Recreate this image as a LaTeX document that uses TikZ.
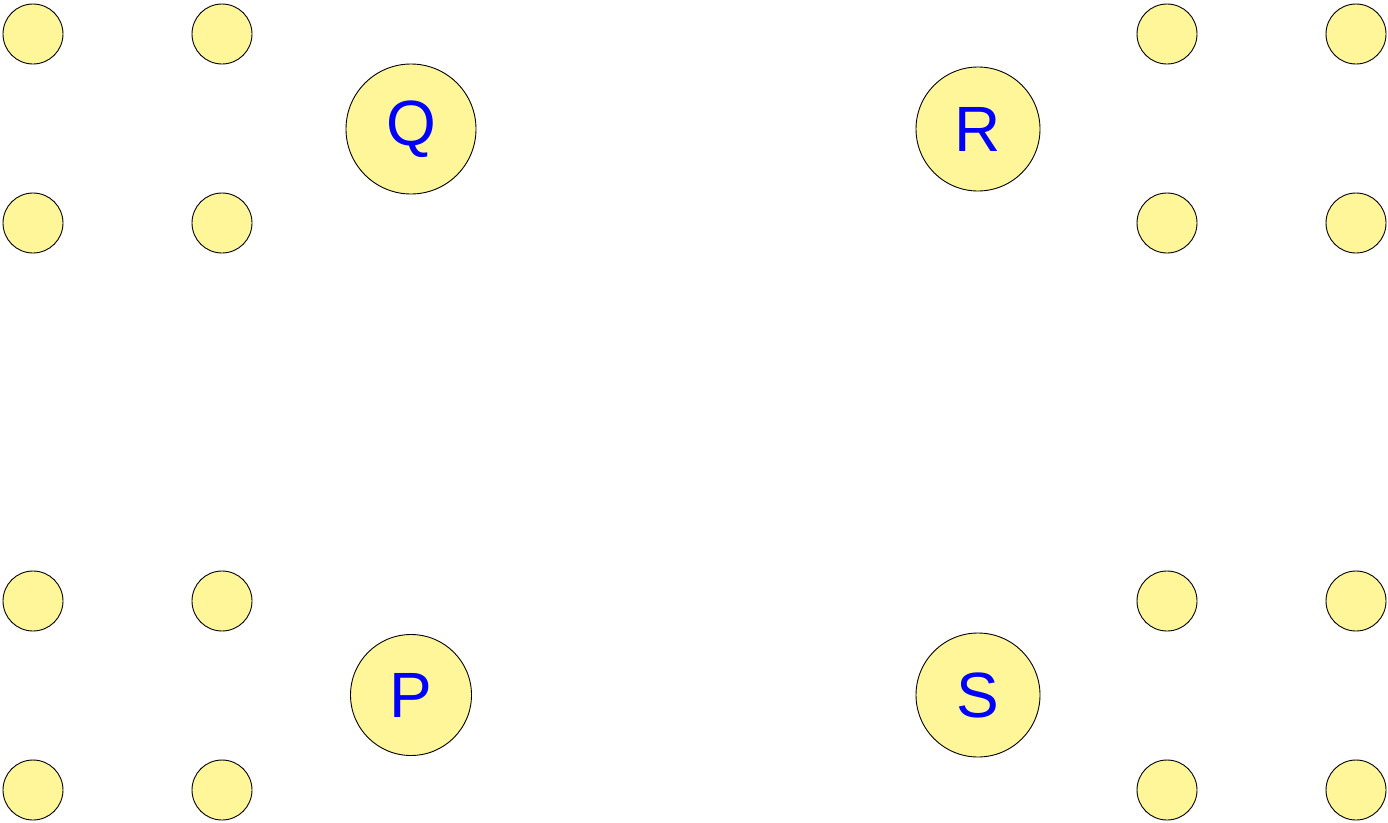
\documentclass[tikz,border=0pt]{standalone}
\usepackage{fontspec}
\setmainfont{Liberation Sans}
\usepackage{tikz}
\usetikzlibrary{positioning}
\usepackage{xcolor}
\definecolor{padfill}{RGB}{255,246,153}
\definecolor{labelblue}{RGB}{0,0,255}

\begin{document}
\begin{tikzpicture}[x=1pt,y=-1pt,semithick,
    pad/.style={circle,draw=black,line width=0.9pt,fill=padfill,inner sep=0pt,minimum size=60pt},
    hub/.style={circle,draw=black,line width=0.9pt,fill=padfill,inner sep=0pt,text=labelblue,font=\fontsize{64}{70}\selectfont}]
      \useasboundingbox (0,0) rectangle (1388,822);
      \foreach \x in {33,222,1167,1356}
        \foreach \y in {34,223,601,790}
          \node[pad] (pad-\x-\y) at (\x,\y) {};
      \node[hub, minimum size=130pt] (q) at (411,129) {Q};
      \node[hub, minimum size=124pt] (r) at (978,129) {R};
      \node[hub, minimum size=121pt] (p) at (411,695) {P};
      \node[hub, minimum size=124pt] (s) at (978,695) {S};
    \end{tikzpicture}
\end{document}
